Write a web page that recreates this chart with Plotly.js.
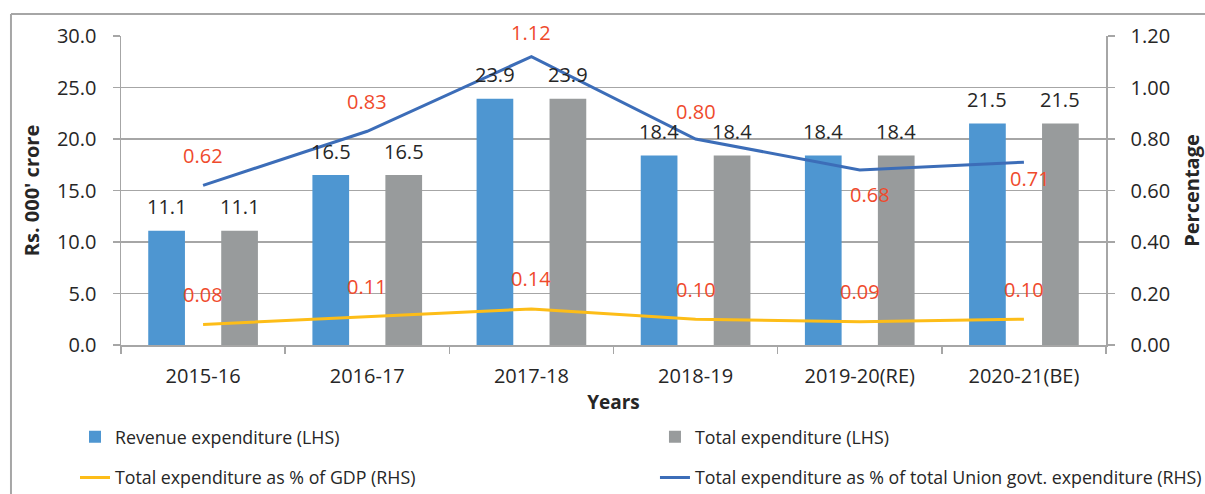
<!DOCTYPE html>
<html>
<head>
<meta charset="utf-8">
<script src="https://cdn.plot.ly/plotly-3.0.1.min.js"></script>
<style>
  html, body { margin: 0; padding: 0; background: #ffffff; }
  #chart { width: 1205px; height: 494px; }
</style>
</head>
<body>
<div id="chart"></div>
<script>
// ---- data ----
const years = ['2015-16', '2016-17', '2017-18', '2018-19', '2019-20(RE)', '2020-21(BE)'];
const revenueExp = [11.1, 16.5, 23.9, 18.4, 18.4, 21.5];
const totalExp = [11.1, 16.5, 23.9, 18.4, 18.4, 21.5];
const pctGDP = [0.08, 0.11, 0.14, 0.10, 0.09, 0.10];
const pctUnion = [0.62, 0.83, 1.12, 0.80, 0.68, 0.71];
const yTicksLeft = [0, 5, 10, 15, 20, 25, 30];
const yTicksRight = [0, 0.2, 0.4, 0.6, 0.8, 1.0, 1.2];

// ---- styles ----
const FONT = 'Open Sans, Noto Sans, sans-serif';
const C_BLUE_BAR = '#4e96d1';
const C_GRAY_BAR = '#989b9c';
const C_BLUE_LINE = '#3c6db8';
const C_YELLOW = '#fdbd18';
const C_RED = '#ef4a2c';
const C_GRID = '#a6a6a6';
const C_TEXT = '#262626';

const traces = [
  {
    type: 'bar', name: 'Revenue expenditure (LHS)', x: years, y: revenueExp,
    marker: { color: C_BLUE_BAR }, legend: 'legend', showlegend: true, hoverinfo: 'skip'
  },
  {
    type: 'bar', name: 'Total expenditure (LHS)', x: years, y: totalExp,
    marker: { color: C_GRAY_BAR }, legend: 'legend2', showlegend: true, hoverinfo: 'skip'
  },
  {
    type: 'scatter', mode: 'lines', name: 'Total expenditure as % of GDP (RHS)',
    x: years, y: pctGDP, yaxis: 'y2', line: { color: C_YELLOW, width: 3 },
    legend: 'legend3', showlegend: true, hoverinfo: 'skip'
  },
  {
    type: 'scatter', mode: 'lines', name: 'Total expenditure as % of total Union govt. expenditure (RHS)',
    x: years, y: pctUnion, yaxis: 'y2', line: { color: C_BLUE_LINE, width: 3 },
    legend: 'legend4', showlegend: true, hoverinfo: 'skip'
  }
];

// label offsets (style only)
const barShift = 36.5;
const unionShiftY = [30, 30, 24, 28, -25, -16];
const unionShiftX = [0, 0, 0, 0, 10, 6];
const gdpShiftY = 30;

const annotations = [];
years.forEach((yr, i) => {
  annotations.push({
    x: yr, y: revenueExp[i], xref: 'x', yref: 'y', text: revenueExp[i].toFixed(1),
    showarrow: false, xshift: -barShift, yshift: 24, yanchor: 'middle',
    font: { family: FONT, size: 20, color: C_TEXT }
  });
  annotations.push({
    x: yr, y: totalExp[i], xref: 'x', yref: 'y', text: totalExp[i].toFixed(1),
    showarrow: false, xshift: barShift, yshift: 24, yanchor: 'middle',
    font: { family: FONT, size: 20, color: C_TEXT }
  });
  annotations.push({
    x: yr, y: pctUnion[i], xref: 'x', yref: 'y2', text: pctUnion[i].toFixed(2),
    showarrow: false, xshift: unionShiftX[i], yshift: unionShiftY[i], yanchor: 'middle',
    font: { family: FONT, size: 20, color: C_RED }
  });
  annotations.push({
    x: yr, y: pctGDP[i], xref: 'x', yref: 'y2', text: pctGDP[i].toFixed(2),
    showarrow: false, yshift: gdpShiftY, yanchor: 'middle',
    font: { family: FONT, size: 20, color: C_RED }
  });
});

function legendAt(xPaper, yPaper) {
  return {
    visible: true,
    orientation: 'h', x: xPaper, xanchor: 'left', y: yPaper, yanchor: 'middle',
    font: { family: FONT, size: 17.8, color: C_TEXT }, bgcolor: 'rgba(0,0,0,0)'
  };
}

const layout = {
  width: 1205, height: 494,
  showlegend: true,
  margin: { l: 121, r: 99, t: 36, b: 149, pad: 0, autoexpand: false },
  paper_bgcolor: '#ffffff', plot_bgcolor: '#ffffff',
  font: { family: FONT, size: 20, color: C_TEXT },
  barmode: 'group', bargap: 0.111, bargroupgap: 0.497,
  xaxis: {
    type: 'category',
    showline: true, linecolor: C_GRID, linewidth: 1.5,
    ticks: 'outside', tickson: 'boundaries', ticklen: 7, tickcolor: C_GRID, tickwidth: 1.5,
    showgrid: false, zeroline: false,
    ticklabelstandoff: 12,
    tickfont: { family: FONT, size: 20, color: C_TEXT },
    title: { text: 'Years', font: { family: FONT, size: 19, color: C_TEXT, weight: 'bold' }, standoff: 8 }
  },
  yaxis: {
    range: [0, 30], tickvals: yTicksLeft, tickformat: '.1f',
    showline: true, linecolor: C_GRID, linewidth: 1.5,
    ticks: 'outside', ticklen: 7, tickcolor: C_GRID, tickwidth: 1.5,
    showgrid: true, gridcolor: C_GRID, gridwidth: 1.5, zeroline: false,
    ticklabelstandoff: 12,
    tickfont: { family: FONT, size: 20, color: C_TEXT },
    title: { text: "Rs. 000' crore", font: { family: FONT, size: 20, color: C_TEXT, weight: 'bold' }, standoff: 12 }
  },
  yaxis2: {
    overlaying: 'y', side: 'right',
    range: [0, 1.2], tickvals: yTicksRight, tickformat: '.2f',
    showline: true, linecolor: C_GRID, linewidth: 1.5,
    ticks: 'outside', ticklen: 7, tickcolor: C_GRID, tickwidth: 1.5,
    showgrid: false, zeroline: false,
    ticklabelstandoff: 12,
    tickfont: { family: FONT, size: 20, color: C_TEXT },
    title: { text: 'Percentage', font: { family: FONT, size: 20, color: C_TEXT, weight: 'bold' }, standoff: 17 }
  },
  legend: legendAt(-0.0467, -0.298),
  legend2: legendAt(0.5421, -0.298),
  legend3: legendAt(-0.0467, -0.43),
  legend4: legendAt(0.5421, -0.43),
  shapes: [
    { type: 'line', xref: 'paper', yref: 'paper', x0: -0.1117, x1: 1.1005, y0: 1.0712, y1: 1.0712,
      line: { color: C_GRID, width: 2 } },
    { type: 'line', xref: 'paper', yref: 'paper', x0: -0.1117, x1: -0.1117, y0: 1.0712, y1: -0.49,
      line: { color: C_GRID, width: 2 } }
  ],
  annotations: annotations
};

Plotly.newPlot('chart', traces, layout, { displayModeBar: false, staticPlot: true });
</script>
</body>
</html>
